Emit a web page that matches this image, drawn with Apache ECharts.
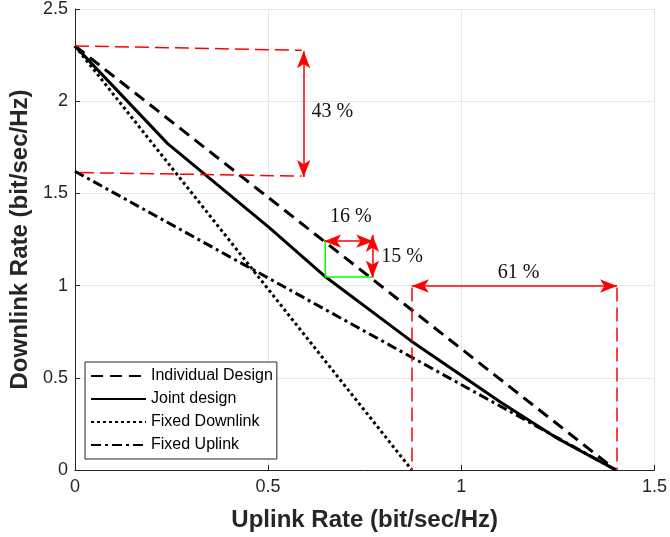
<!DOCTYPE html>
<html>
<head>
<meta charset="utf-8">
<script src="https://cdn.jsdelivr.net/npm/echarts@6/dist/echarts.min.js"></script>
<style>
  html, body { margin: 0; padding: 0; background: #fff; }
  #chart { width: 670px; height: 537px; }
</style>
</head>
<body>
<div id="chart"></div>
<script>
// Rate region boundaries: [uplink, downlink] in bit/sec/Hz
const individualDesign = [[0, 2.30], [1.40, 0]];
const jointDesign = [[0, 2.30], [0.24, 1.77], [0.5, 1.32], [0.65, 1.045], [0.87, 0.70], [1.1, 0.37], [1.25, 0.17], [1.40, 0]];
const fixedDownlink = [[0, 2.30], [0.872, 0]];
const fixedUplink = [[0, 1.62], [1.40, 0]];

const seriesNames = ['Individual Design', 'Joint design', 'Fixed Downlink', 'Fixed Uplink'];

// Gain annotations
const guideLines = [
  [[0, 2.30], [0.587, 2.276]],
  [[0.013, 1.613], [0.587, 1.594]],
  [[0.872, 0.99], [0.872, 0]],
  [[1.403, 0.99], [1.403, 0]]
];
const gainArrows = [
  [[0.592, 2.271], [0.592, 1.589]],
  [[0.645, 1.241], [0.772, 1.241]],
  [[0.770, 1.275], [0.770, 1.044]],
  [[0.872, 0.998], [1.403, 0.998]]
];
const gainBox = [[0.648, 1.241], [0.648, 1.047], [0.770, 1.047]];
const gainLabels = [
  ['43 %', 0.666, 1.945],
  ['16 %', 0.714, 1.371],
  ['15 %', 0.847, 1.154],
  ['61 %', 1.148, 1.067]
];

const axisColor = '#262626';
const sans = 'Liberation Sans, Arial, sans-serif';
const serif = 'Liberation Serif, Times New Roman, serif';

const chart = echarts.init(document.getElementById('chart'), null, { renderer: 'canvas' });

function curve(name, data, type) {
  return {
    name: name,
    type: 'line',
    data: data,
    symbol: 'none',
    showSymbol: false,
    silent: true,
    animation: false,
    z: 3,
    lineStyle: { color: '#000', width: 3, type: type, cap: 'butt' }
  };
}

const arrowHead = [10, 17];

const option = {
  animation: false,
  backgroundColor: '#fff',
  grid: { left: 70, right: 12, top: 8.5, bottom: 67, containLabel: false },
  legend: {
    data: seriesNames,
    orient: 'vertical',
    left: 85,
    top: 362,
    itemWidth: 55,
    itemHeight: 14,
    itemGap: 7,
    padding: [6, 4, 6, 5],
    borderColor: axisColor,
    borderWidth: 1,
    borderRadius: 0,
    backgroundColor: '#fff',
    selectedMode: false,
    itemStyle: { opacity: 0 },
    textStyle: { fontFamily: sans, fontSize: 16, color: '#000' }
  },
  xAxis: {
    type: 'value',
    min: 0,
    max: 1.5,
    interval: 0.5,
    name: 'Uplink Rate (bit/sec/Hz)',
    nameLocation: 'middle',
    nameGap: 38,
    nameTextStyle: { fontFamily: sans, fontSize: 24, fontWeight: 'bold', color: axisColor },
    axisLine: { show: true, onZero: false, lineStyle: { color: axisColor, width: 1 } },
    axisTick: { show: true, inside: true, length: 5, lineStyle: { color: axisColor } },
    axisLabel: { margin: 8, fontFamily: sans, fontSize: 18, color: axisColor },
    splitLine: { show: true, lineStyle: { color: '#e6e6e6', width: 1 } }
  },
  yAxis: {
    type: 'value',
    min: 0,
    max: 2.5,
    interval: 0.5,
    name: 'Downlink Rate (bit/sec/Hz)',
    nameLocation: 'middle',
    nameGap: 36,
    nameTextStyle: { fontFamily: sans, fontSize: 24, fontWeight: 'bold', color: axisColor },
    axisLine: { show: true, onZero: false, lineStyle: { color: axisColor, width: 1 } },
    axisTick: { show: true, inside: true, length: 5, lineStyle: { color: axisColor } },
    axisLabel: { margin: 7, fontFamily: sans, fontSize: 18, color: axisColor },
    splitLine: { show: true, lineStyle: { color: '#e6e6e6', width: 1 } }
  },
  series: [
    curve(seriesNames[0], individualDesign, [12, 7]),
    curve(seriesNames[1], jointDesign, 'solid'),
    curve(seriesNames[2], fixedDownlink, [3, 3]),
    curve(seriesNames[3], fixedUplink, [10, 4, 3, 4]),
    {
      name: 'gain-box',
      type: 'line',
      data: gainBox,
      symbol: 'none',
      silent: true,
      z: 4,
      lineStyle: { color: '#00ff00', width: 1.5 }
    },
    {
      name: 'guides',
      type: 'line',
      data: [],
      silent: true,
      z: 5,
      markLine: {
        silent: true,
        animation: false,
        symbol: ['none', 'none'],
        label: { show: false },
        emphasis: { disabled: true },
        lineStyle: { color: '#ff0000', width: 1.5, type: [14, 6] },
        data: guideLines.map(p => [{ coord: p[0] }, { coord: p[1] }])
      }
    },
    {
      name: 'arrows',
      type: 'line',
      data: [],
      silent: true,
      z: 6,
      markLine: {
        silent: true,
        animation: false,
        symbol: ['arrow', 'arrow'],
        label: { show: false },
        emphasis: { disabled: true },
        lineStyle: { color: '#ff0000', width: 1.5, type: 'solid' },
        itemStyle: { color: '#ff0000' },
        data: gainArrows.map(p => [
          { coord: p[0], symbolSize: arrowHead },
          { coord: p[1], symbolSize: arrowHead }
        ])
      },
      markPoint: {
        silent: true,
        animation: false,
        symbol: 'circle',
        symbolSize: 0,
        itemStyle: { color: 'transparent' },
        label: {
          show: true,
          position: 'inside',
          formatter: p => p.name,
          fontFamily: serif,
          fontSize: 20,
          color: '#111'
        },
        data: gainLabels.map(g => ({ name: g[0], coord: [g[1], g[2]] }))
      }
    }
  ]
};

chart.setOption(option);
</script>
</body>
</html>
